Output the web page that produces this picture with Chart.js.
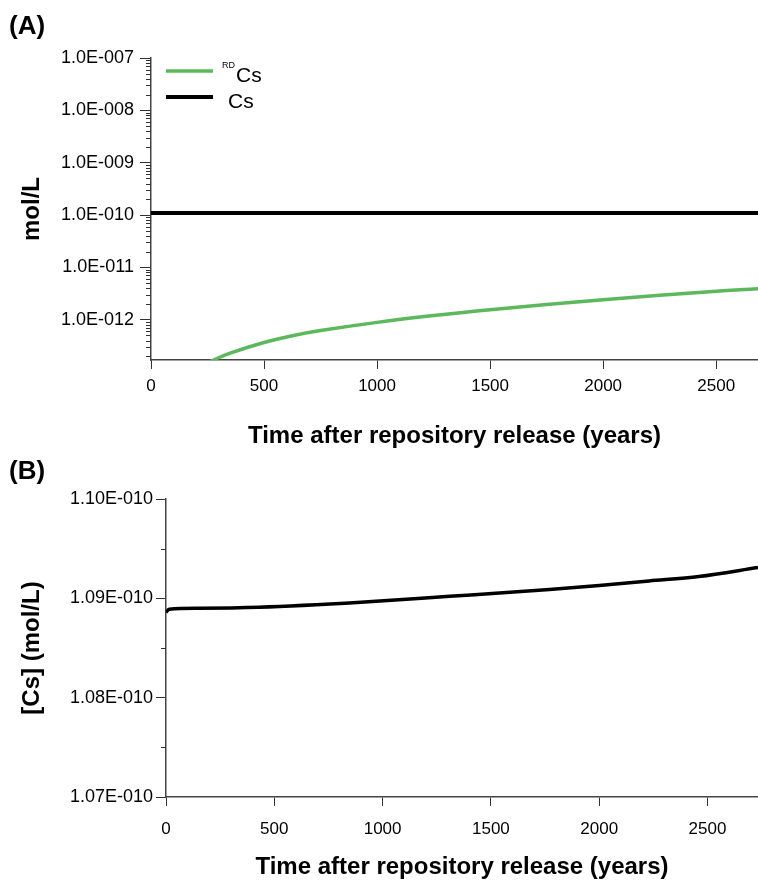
<!DOCTYPE html>
<html><head><meta charset="utf-8">
<script src="https://cdn.jsdelivr.net/npm/chart.js@4.4.1/dist/chart.umd.min.js"></script>
<style>
html,body{margin:0;padding:0;background:#fff;overflow:hidden;width:758px;height:883px;}
canvas{position:absolute;left:0;}
#ca{top:0;}
#cb{top:450px;}
.lab{position:absolute;z-index:2;font:bold 26px "Liberation Sans",Arial,sans-serif;color:#000;line-height:30px;}
</style></head><body>
<div class="lab" style="left:9px;top:10px">(A)</div>
<div class="lab" style="left:9px;top:455px">(B)</div>
<canvas id="ca" width="758" height="450" style="width:758px;height:450px"></canvas>
<canvas id="cb" width="758" height="433" style="width:758px;height:433px"></canvas>
<script>
// ---------- data ----------
const yearsCs = [0, 15, 150, 430, 900, 1310, 1770, 2000, 2230, 2460, 2733];
const csMolL  = [1.0886e-10, 1.0889e-10, 1.0890e-10, 1.0891e-10, 1.0896e-10, 1.0902e-10, 1.0909e-10, 1.0913e-10, 1.09175e-10, 1.0922e-10, 1.0931e-10];
const yearsRd = [262, 350, 500, 620, 750, 1000, 1250, 1500, 2000, 2500, 2733];
const rdCsMolL = [1.6e-13, 2.3e-13, 3.67e-13, 4.9e-13, 6.2e-13, 8.9e-13, 1.2e-12, 1.55e-12, 2.4e-12, 3.5e-12, 4.0e-12];
const xTickYears = [0, 500, 1000, 1500, 2000, 2500];
const yTicksA = [1e-12, 1e-11, 1e-10, 1e-9, 1e-8, 1e-7];
const yTicksB = [1.07e-10, 1.08e-10, 1.09e-10, 1.10e-10];
const yMinorB = [1.075e-10, 1.085e-10, 1.095e-10];
const xTitle = 'Time after repository release (years)';
const yTitleA = 'mol/L';
const yTitleB = '[Cs] (mol/L)';
const labelCs = 'Cs';
const labelRdSup = 'RD';
const labelRd = 'Cs';

const FONT = '"Liberation Sans", Arial, sans-serif';
const GREEN = '#5cb85c';

const yMinorA = [];
for (let e = -13; e <= -8; e++) for (let k = 2; k <= 9; k++) yMinorA.push(k * Math.pow(10, e));

const minorTicks = {
  id: 'minorTicks',
  afterDraw(chart, args, opts) {
    const s = chart.scales[opts.axis];
    const ctx = chart.ctx;
    ctx.save();
    ctx.strokeStyle = opts.color; ctx.lineWidth = 1;
    opts.values.forEach(v => {
      if (v < s.min || v > s.max) return;
      const y = Math.round(s.getPixelForValue(v)) + 0.5;
      ctx.beginPath(); ctx.moveTo(s.right, y); ctx.lineTo(s.right - opts.len, y); ctx.stroke();
    });
    ctx.restore();
  }
};

const customLegend = {
  id: 'customLegend',
  afterDraw(chart, args, opts) {
    const ctx = chart.ctx;
    ctx.save();
    opts.items.forEach(it => {
      const ds = chart.data.datasets[it.index];
      ctx.strokeStyle = ds.borderColor; ctx.lineWidth = ds.borderWidth;
      ctx.beginPath(); ctx.moveTo(it.x0, it.y); ctx.lineTo(it.x1, it.y); ctx.stroke();
      ctx.fillStyle = '#000'; ctx.textBaseline = 'alphabetic'; ctx.textAlign = 'left';
      let tx = it.tx;
      if (ds.labelSup) {
        ctx.font = '9px ' + FONT;
        ctx.fillText(ds.labelSup, tx, it.y - 3);
        tx += ctx.measureText(ds.labelSup).width + 1;
      }
      ctx.font = '21px ' + FONT;
      ctx.fillText(ds.label, tx, it.y + 11);
    });
    ctx.restore();
  }
};

function xScale(max, h, pad, tb) {
  return {
    type: 'linear', min: 0, max: max,
    afterBuildTicks: s => { s.ticks = xTickYears.map(v => ({ value: v })); },
    afterFit: s => { s.height = h; },
    grid: { display: true, drawOnChartArea: false, drawTicks: true, tickLength: 9, color: '#333', lineWidth: 1 },
    border: { display: true, color: '#444', width: 1.5 },
    ticks: { padding: pad, color: '#000', font: { family: FONT, size: 17 }, maxRotation: 0, autoSkip: false,
      callback: v => String(v) },
    title: { display: true, text: xTitle, color: '#000', font: { family: FONT, size: 24, weight: 'bold' }, padding: { top: 0, bottom: tb } }
  };
}

new Chart(document.getElementById('ca'), {
  type: 'line',
  data: {
    datasets: [
      { label: labelRd, labelSup: labelRdSup, data: yearsRd.map((t, i) => ({ x: t, y: rdCsMolL[i] })), borderColor: GREEN, borderWidth: 3.5, pointRadius: 0, tension: 0.4, fill: false },
      { label: labelCs, data: yearsCs.map((t, i) => ({ x: t, y: csMolL[i] })), borderColor: '#000', borderWidth: 4, pointRadius: 0, fill: false }
    ]
  },
  options: {
    responsive: false, animation: false,
    layout: { padding: { top: 58, right: 0, bottom: 0, left: 0 } },
    plugins: {
      legend: { display: false }, tooltip: { enabled: false },
      minorTicks: { axis: 'y', values: yMinorA, len: 5, color: '#333' },
      customLegend: { items: [ { index: 0, x0: 166, x1: 213, y: 71, tx: 222 }, { index: 1, x0: 166, x1: 213, y: 97, tx: 228 } ] }
    },
    scales: {
      x: xScale(2685, 90, 7, -1),
      y: {
        type: 'logarithmic', min: 1.7e-13, max: 1e-7,
        afterBuildTicks: s => { s.ticks = yTicksA.map(v => ({ value: v })); },
        afterFit: s => { s.width = 151; },
        grid: { display: true, drawOnChartArea: false, drawTicks: true, tickLength: 11, color: '#333', lineWidth: 1 },
        border: { display: true, color: '#444', width: 1.5 },
        ticks: { padding: 6, color: '#000', font: { family: FONT, size: 18 }, autoSkip: false,
          callback: v => '1.0E-' + String(Math.round(-Math.log10(v))).padStart(3, '0') },
        title: { display: true, text: yTitleA, color: '#000', font: { family: FONT, size: 24, weight: 'bold' }, padding: { top: 18, bottom: 0 } }
      }
    }
  },
  plugins: [minorTicks, customLegend]
});

new Chart(document.getElementById('cb'), {
  type: 'line',
  data: {
    datasets: [
      { label: labelCs, data: yearsCs.map((t, i) => ({ x: t, y: csMolL[i] })), borderColor: '#000', borderWidth: 3.5, pointRadius: 0, cubicInterpolationMode: 'monotone', fill: false }
    ]
  },
  options: {
    responsive: false, animation: false,
    layout: { padding: { top: 49, right: 0, bottom: 0, left: 0 } },
    plugins: {
      legend: { display: false }, tooltip: { enabled: false },
      minorTicks: { axis: 'y', values: yMinorB, len: 5, color: '#333' }
    },
    scales: {
      x: xScale(2733, 86, 13, 1),
      y: {
        type: 'linear', min: 1.07e-10, max: 1.10e-10,
        afterBuildTicks: s => { s.ticks = yTicksB.map(v => ({ value: v })); },
        afterFit: s => { s.width = 166; },
        grid: { display: true, drawOnChartArea: false, drawTicks: true, tickLength: 10, color: '#333', lineWidth: 1 },
        border: { display: true, color: '#444', width: 1.5 },
        ticks: { padding: 3, color: '#000', font: { family: FONT, size: 18 }, autoSkip: false,
          callback: v => (v * 1e10).toFixed(2) + 'E-010' },
        title: { display: true, text: yTitleB, color: '#000', font: { family: FONT, size: 24, weight: 'bold' }, padding: { top: 18, bottom: 0 } }
      }
    }
  },
  plugins: [minorTicks]
});
</script>
</body></html>
